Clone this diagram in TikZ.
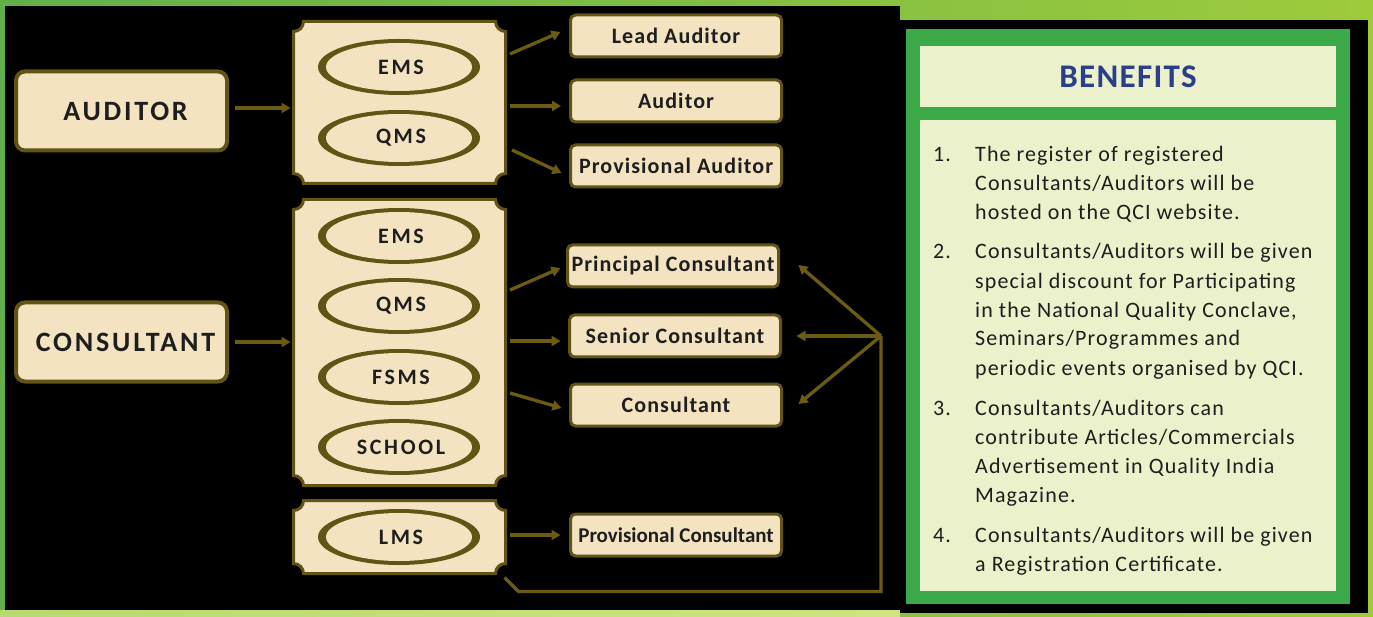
\documentclass[tikz,border=0pt]{standalone}
\usepackage{fontspec}
\setmainfont{Carlito}
\usetikzlibrary{shapes.geometric,arrows.meta,calc}
\definecolor{cream}{HTML}{F3E3C1}
\definecolor{olive}{HTML}{625414}
\definecolor{arrowc}{HTML}{6B5C12}
\definecolor{gframe}{HTML}{3DAA4A}
\definecolor{lightp}{HTML}{EAF1CB}
\definecolor{bluet}{HTML}{2B3E8C}
\definecolor{txt}{HTML}{1E1E1E}
\definecolor{bgl}{HTML}{62B04A}
\definecolor{bgr}{HTML}{9ECB3C}
\definecolor{stripl}{HTML}{B9DA6C}
\definecolor{stripr}{HTML}{CFE47E}
\newcommand{\ticket}[1]{%
  \draw[tk] ($(#1.north west)+(10pt,0pt)$) -- ($(#1.north east)+(-10pt,0pt)$)
    arc[start angle=180,end angle=270,radius=10pt]
    -- ($(#1.south east)+(0pt,10pt)$)
    arc[start angle=90,end angle=180,radius=10pt]
    -- ($(#1.south west)+(10pt,0pt)$)
    arc[start angle=0,end angle=90,radius=10pt]
    -- ($(#1.north west)+(0pt,-10pt)$)
    arc[start angle=270,end angle=360,radius=10pt] -- cycle;}
\begin{document}
\begin{tikzpicture}[x=1pt,y=-1pt,
  bigbox/.style={draw=olive, line width=4pt, fill=cream, rounded corners=9pt,
    minimum width=211pt, minimum height=79pt, inner sep=0pt, text=txt,
    font=\fontsize{28}{30}\selectfont\bfseries\addfontfeature{LetterSpace=10}},
  rbox/.style={draw=olive, line width=3pt, fill=cream, rounded corners=5pt,
    minimum width=211pt, minimum height=42pt, inner sep=0pt, text=txt,
    font=\fontsize{22}{24}\selectfont\bfseries\addfontfeature{LetterSpace=5}},
  tkn/.style={draw=none, inner sep=0pt, outer sep=0pt, minimum width=212pt},
  tk/.style={draw=olive, line width=3pt, fill=cream},
  ering/.style={ellipse, fill=olive, minimum width=162pt, minimum height=56pt, inner sep=0pt},
  einner/.style={ellipse, fill=cream, minimum width=146pt, minimum height=48pt, inner sep=0pt, text=txt,
    font=\fontsize{22}{24}\selectfont\bfseries\addfontfeature{LetterSpace=12}},
  arr/.style={draw=arrowc, line width=3.3pt, -{Triangle[length=9pt,width=10pt]}},
  lnk/.style={draw=arrowc, line width=3.3pt},
  item/.style={inner sep=0pt, align=left, text=txt,
    font=\fontsize{22}{29}\selectfont\addfontfeature{LetterSpace=5}}
]
\useasboundingbox (0,0) rectangle (1373,617);
% background
\shade[left color=bgl, right color=bgr] (0,0) rectangle (1373,617);
\shade[left color=stripl, right color=stripr] (0,610) rectangle (900,617);
\fill[black] (5,6) rectangle (900,610);
\fill[black] (900,20) rectangle (1368,613);

% left boxes
\node[bigbox] (auditor) at (121.5,111) {\hspace*{8pt}AUDITOR};
\node[bigbox] (consultant) at (121.5,342) {\hspace*{8pt}CONSULTANT};

% ticket blocks
\node[tkn, minimum height=162pt] (ablock) at (399.5,102.5) {};
\ticket{ablock}
\node[tkn, minimum height=286pt] (cblock) at (399.5,342.5) {};
\ticket{cblock}
\node[tkn, minimum height=73pt] (lblock) at (399.5,537) {};
\ticket{lblock}

% ellipses
\foreach \nm/\yy/\tx in {ae/67/EMS, aq/138/QMS, ce/236/EMS, cq/306/QMS, cf/377/FSMS, cs/447/SCHOOL, cl/537/LMS}{
  \node[ering] (\nm r) at (399,\yy) {};
  \node[einner] (\nm) at (399,\yy) {\hspace*{4pt}\tx};
}

% right boxes
\node[rbox] (lead) at (676,36) {Lead Auditor};
\node[rbox] (aud) at (676,101) {Auditor};
\node[rbox] (provaud) at (676,166) {Provisional Auditor};
\node[rbox] (pcons) at (673,266) {Principal Consultant};
\node[rbox] (scons) at (675,336) {Senior Consultant};
\node[rbox] (cons) at (676,405) {Consultant};
\node[rbox, font=\fontsize{21}{24}\selectfont\bfseries] (provcons) at (676,535) {Provisional Consultant};

% arrows left
\draw[arr, shorten <=6pt, shorten >=3pt] ([yshift=3pt]auditor.east) -- ([yshift=3pt]auditor.east -| ablock.west);
\draw[arr, shorten <=6pt, shorten >=3pt] (consultant.east) -- (consultant.east -| cblock.west);

% arrows from auditor block
\draw[arr] ($(ablock.north east)+(4.5,32.5)$) -- ($(lead.west)+(-8.5,-4)$);
\draw[arr] ($(ablock.north east)+(4.5,84.5)$) -- ($(aud.west)+(-8,5)$);
\draw[arr] ($(ablock.north east)+(6.5,128.5)$) -- ($(provaud.west)+(-7.5,7)$);
% arrows from consultant block
\draw[arr] ($(cblock.north east)+(4.5,90.5)$) -- ($(pcons.west)+(-5.5,2)$);
\draw[arr] ($(cblock.north east)+(4.5,141.5)$) -- ($(scons.west)+(-7.5,5)$);
\draw[arr] ($(cblock.north east)+(4.5,193.5)$) -- ($(cons.west)+(-7.5,3)$);
% LMS
\draw[arr] ($(lblock.north east)+(4.5,34.5)$) -- ($(provcons.west)+(-8.5,0)$);

% return line and fan
\coordinate (fan) at (881,336);
\draw[lnk] ($(lblock.south east)+(-1,4)$) -- ++(14,14) -| (fan);
\draw[arr] (fan) -- ($(pcons.east)+(18.5,-1)$);
\draw[arr] (fan) -- ($(scons.east)+(14.5,0)$);
\draw[arr] (fan) -- ($(cons.east)+(15.5,-1)$);

% benefits panel
\node[fill=gframe, minimum width=444pt, minimum height=575pt, inner sep=0pt] (frame) at (1128,316.5) {};
\node[fill=lightp, minimum width=416pt, minimum height=61pt, inner sep=0pt, text=bluet,
  font=\fontsize{33}{36}\selectfont\bfseries\addfontfeature{LetterSpace=4}] (head) at (1128,76.5) {BENEFITS};
\node[fill=lightp, minimum width=416pt, minimum height=471pt, inner sep=0pt] (body) at (1128,355.5) {};

\node[item, anchor=base west] (n1) at (933,162) {1.};
\node[item, anchor=base west] (b1) at (975,220) {The register of registered\\Consultants/Auditors will be\\hosted on the QCI website.};
\node[item, anchor=base west] (n2) at (933,259) {2.};
\node[item, anchor=base west] (b2) at (975,375) {Consultants/Auditors will be given\\special discount for Participating\\in the National Quality Conclave,\\Seminars/Programmes and\\periodic events organised by QCI.};
\node[item, anchor=base west] (n3) at (933,415) {3.};
\node[item, anchor=base west] (b3) at (975,502) {Consultants/Auditors can\\contribute Articles/Commercials\\Advertisement in Quality India\\Magazine.};
\node[item, anchor=base west] (n4) at (933,542) {4.};
\node[item, anchor=base west] (b4) at (975,571) {Consultants/Auditors will be given\\a Registration Certificate.};
\end{tikzpicture}
\end{document}
